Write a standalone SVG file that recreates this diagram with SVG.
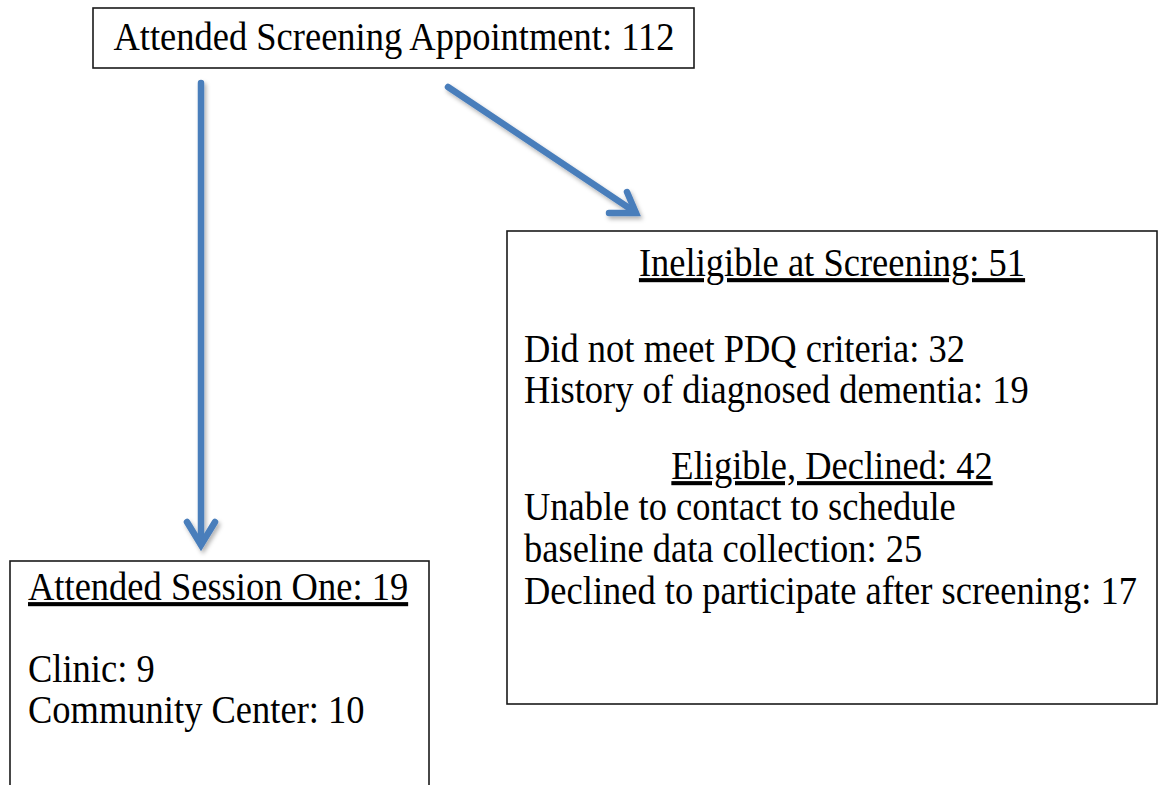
<svg xmlns="http://www.w3.org/2000/svg" width="1158" height="785" viewBox="0 0 1158 785">
<defs>
<style>
.box{fill:#fff;stroke:#1a1a1a;stroke-width:1.6}
.t{font-family:"Liberation Serif","Times New Roman",serif;font-size:36.5px;fill:#000}
.c{text-anchor:middle}
.u{text-decoration:underline}
.arr{fill:none;stroke:#4a7ebb;stroke-width:6.5;stroke-linecap:round;stroke-linejoin:miter}
</style>
<filter id="sh" x="-20%" y="-20%" width="140%" height="140%">
<feDropShadow dx="2" dy="3" stdDeviation="2.2" flood-color="#000" flood-opacity="0.3"/>
</filter>
</defs>
<rect width="1158" height="785" fill="#fff"/>
<g id="node-top">
<rect class="box" x="93" y="8" width="601" height="60"/>
<text class="t c" transform="translate(394,50) scale(1,1.12)">Attended Screening Appointment: 112</text>
</g>
<g id="node-ineligible">
<rect class="box" x="507" y="231" width="650" height="473"/>
<text class="t c u" transform="translate(832,276) scale(1,1.12)">Ineligible at Screening: 51</text>
<text class="t" transform="translate(524,362) scale(1,1.12)">Did not meet PDQ criteria: 32</text>
<text class="t" transform="translate(524,403) scale(1,1.12)">History of diagnosed dementia: 19</text>
<text class="t c u" transform="translate(832,479) scale(1,1.12)">Eligible, Declined: 42</text>
<text class="t" transform="translate(524,520) scale(1,1.12)">Unable to contact to schedule</text>
<text class="t" transform="translate(524,562) scale(1,1.12)">baseline data collection: 25</text>
<text class="t" transform="translate(524,604) scale(1,1.12)">Declined to participate after screening: 17</text>
</g>
<g id="node-session">
<rect class="box" x="10" y="561" width="419" height="240"/>
<text class="t u" transform="translate(28,600) scale(1,1.12)">Attended Session One: 19</text>
<text class="t" transform="translate(28,682) scale(1,1.12)">Clinic: 9</text>
<text class="t" transform="translate(28,723) scale(1,1.12)">Community Center: 10</text>
</g>
<g id="connectors" filter="url(#sh)">
<path class="arr" d="M201,83 L201,544"/>
<path class="arr" d="M187,522 L201,545 L215,522"/>
<path class="arr" d="M448,87 L635,212"/>
<path class="arr" d="M627,192 L636,213 L609,213"/>
</g>
</svg>
